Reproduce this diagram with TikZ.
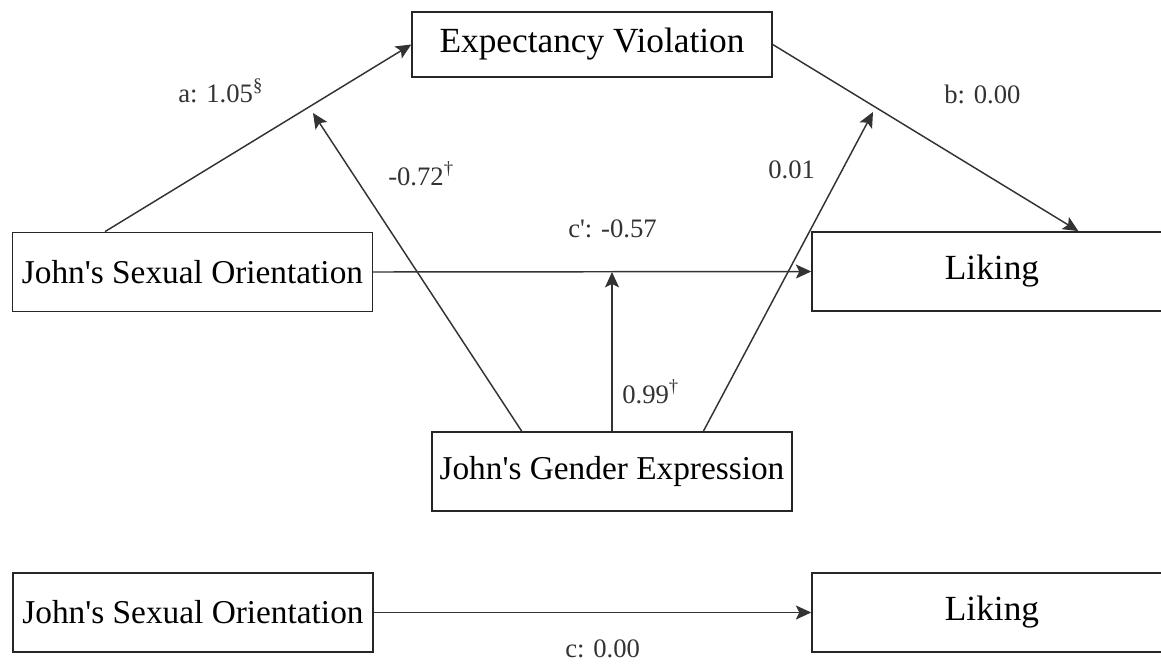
\documentclass[tikz,border=0pt]{standalone}
\usepackage{fontspec}
\setmainfont{Liberation Serif}[Ligatures=TeXOff]
\usetikzlibrary{arrows.meta,calc}
\tikzset{
  box/.style={draw=black!85, line width=1.1pt, fill=white, inner sep=0pt,
    minimum width=270pt, minimum height=59.5pt, font=\fontsize{25}{30}\selectfont},
  bigfont/.style={font=\fontsize{26.5}{30}\selectfont},
  conn/.style={draw=black!80, line width=1.1pt, -{Stealth[length=11.5pt,width=10.5pt,inset=2.5pt]}},
  lbl/.style={inner sep=0pt, anchor=base west, text=black!80, font=\fontsize{20}{24}\selectfont}
}
\begin{document}
\begin{tikzpicture}[x=0.75pt,y=-0.75pt]
\useasboundingbox (0,0) rectangle (1161,665);
\clip (0,0) rectangle (1161,665);
\fill[white] (0,0) rectangle (1161,665);
% nodes
\node[box,bigfont,minimum height=48.75pt] (ev) at (592,44.5) {Expectancy Violation};
\node[box] (so1) at (192.5,272) {John's Sexual Orientation};
\node[box,bigfont] (lik1) at (992,271.5) {Liking};
\node[box] (ge) at (612,471.5) {John's Gender Expression};
\node[box] (so2) at (193,612.5) {John's Sexual Orientation};
\node[box,bigfont] (lik2) at (992,612.5) {Liking};
% free ends
\coordinate (ta) at (313,113);
\coordinate (tb) at (873,112);
\coordinate (tc) at (ge.north |- so1.east);
% connectors
\draw[conn] ($(so1.north west)!0.258!(so1.north east)$) -- (ev.west);
\draw[conn] (ev.east) -- ($(lik1.north west)!0.739!(lik1.north east)$);
\draw[conn] (so1.east) -- (lik1.west);
\draw[conn] ($(ge.north west)!0.25!(ge.north east)$) -- (ta);
\draw[conn] (ge.north) -- (tc);
\draw[conn] ($(ge.north west)!0.753!(ge.north east)$) -- (tb);
\draw[conn] (so2.east) -- (lik2.west);
% labels
\node[lbl] (la) at (178,102) {a: 1.05\textsuperscript{§}};
\node[lbl] (lm1) at (388,185) {-0.72\textsuperscript{†}};
\node[lbl] (lb) at (944,103) {b: 0.00};
\node[lbl] (lm2) at (768,178) {0.01};
\node[lbl] (lc1) at (568,237) {c': -0.57};
\node[lbl] (lm3) at (622,403) {0.99\textsuperscript{†}};
\node[lbl] (lc) at (565,657) {c: 0.00};
\end{tikzpicture}
\end{document}
